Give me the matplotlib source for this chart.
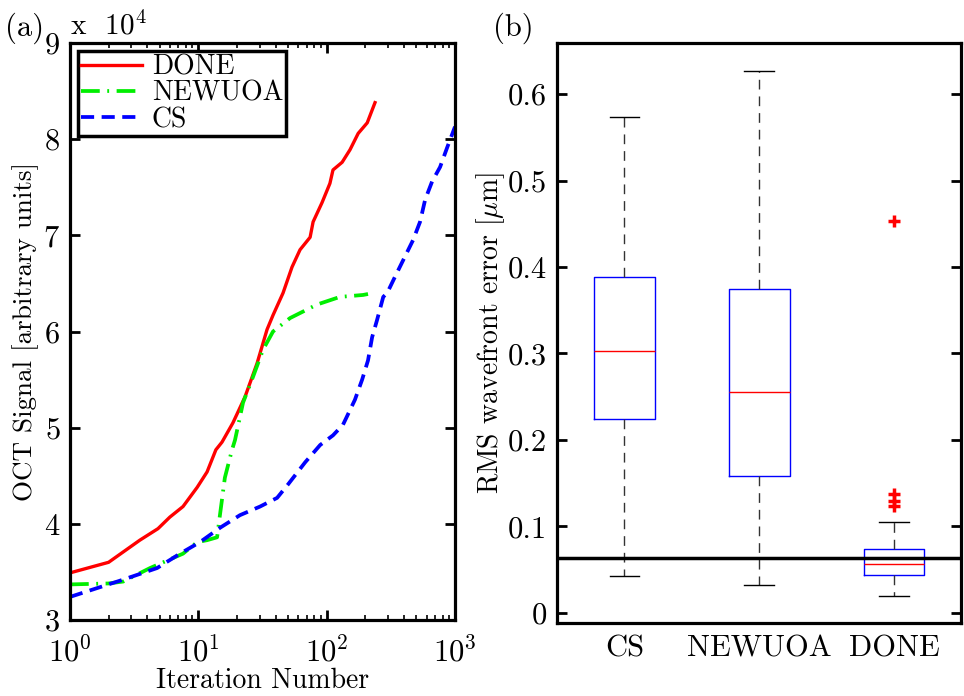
import matplotlib
matplotlib.use("Agg")
import matplotlib.pyplot as plt

plt.rcParams["font.family"] = "serif"
plt.rcParams["font.serif"] = ["cmr10", "DejaVu Serif"]
plt.rcParams["mathtext.fontset"] = "cm"
plt.rcParams["axes.formatter.use_mathtext"] = True
plt.rcParams["axes.unicode_minus"] = False

# ---- panel (a): OCT signal vs iteration (values in units of 1e4) ----
done_iter = [1, 2, 3.5, 4.85, 6.0, 7.6, 9.8, 11.7, 13.7, 15.3, 18.6, 23.1, 28.7,
             34.3, 38.2, 45.7, 53.7, 62, 74.3, 78.4, 92, 106, 112, 132, 152,
             176, 207, 238]
done_sig = [3.49, 3.60, 3.83, 3.95, 4.07, 4.18, 4.38, 4.54, 4.77, 4.85, 5.05,
            5.32, 5.67, 6.02, 6.17, 6.40, 6.67, 6.85, 6.98, 7.14, 7.34, 7.54,
            7.68, 7.76, 7.89, 8.06, 8.17, 8.38]

newuoa_iter = [1, 2, 2.6, 4.2, 7.6, 9.8, 11.7, 14.0, 14.8, 16.1, 18.3, 19.3,
               22.3, 26.7, 31.9, 38.2, 51.9, 84, 127, 192, 210]
newuoa_sig = [3.37, 3.38, 3.40, 3.54, 3.69, 3.81, 3.83, 3.86, 4.11, 4.48, 4.77,
              4.87, 5.26, 5.53, 5.81, 6.00, 6.14, 6.28, 6.36, 6.38, 6.39]

cs_iter = [1, 2.6, 4.77, 7.2, 10.3, 14.8, 21.1, 30.3, 41.1, 50, 68, 89, 112,
           134, 166, 189, 210, 226, 247, 276, 296, 341, 394, 471, 534, 585,
           663, 765, 867, 1000]
cs_sig = [3.24, 3.42, 3.54, 3.69, 3.81, 3.96, 4.09, 4.18, 4.27, 4.41, 4.64,
          4.82, 4.92, 5.03, 5.29, 5.50, 5.70, 5.94, 6.12, 6.36, 6.40, 6.57,
          6.74, 6.95, 7.14, 7.37, 7.56, 7.71, 7.91, 8.13]

# ---- panel (b): boxplot statistics of RMS wavefront error [um] ----
methods = ["CS", "NEWUOA", "DONE"]
whis_lo = [0.043, 0.032, 0.020]
q1 = [0.224, 0.158, 0.044]
med = [0.303, 0.255, 0.057]
q3 = [0.388, 0.375, 0.074]
whis_hi = [0.573, 0.627, 0.105]
outliers = [[], [], [0.453, 0.137, 0.130, 0.124]]
threshold = 0.064

fig = plt.figure(figsize=(9.64, 6.96), dpi=100)
ax1 = fig.add_axes([0.0726, 0.1092, 0.3994, 0.829])
ax2 = fig.add_axes([0.5778, 0.1049, 0.4195, 0.8333])

ax1.plot(done_iter, done_sig, color="red", lw=2.4, label="DONE")
ax1.plot(newuoa_iter, newuoa_sig, color="#00ee00", lw=2.7,
         linestyle=(0, (5, 2, 0.5, 2)), label="NEWUOA")
ax1.plot(cs_iter, cs_sig, color="blue", lw=2.7, linestyle=(0, (3.5, 2)),
         label="CS")
ax1.set_xscale("log")
ax1.set_xlim(1, 1000)
ax1.set_ylim(3, 9)
ax1.set_xticks([1, 10, 100, 1000])
ax1.set_yticks(range(3, 10))
ax1.set_xlabel("Iteration Number", fontsize=20, labelpad=0)
ax1.set_ylabel("OCT Signal [arbitrary units]", fontsize=19.5, labelpad=3)
ax1.text(0.0, 1.005, r"x  $10^4$", transform=ax1.transAxes, fontsize=21,
         va="bottom", ha="left")
leg = ax1.legend(loc="upper left", fontsize=20, handlelength=2.2,
                 labelspacing=0.0, borderaxespad=0.3, borderpad=0.1,
                 handletextpad=0.35, fancybox=False, framealpha=1)
leg.get_frame().set_edgecolor("black")
leg.get_frame().set_linewidth(2.5)

stats = []
for i, name in enumerate(methods):
    stats.append(dict(label=name, whislo=whis_lo[i], q1=q1[i], med=med[i],
                      q3=q3[i], whishi=whis_hi[i], fliers=outliers[i]))
ax2.bxp(stats, positions=[1, 2, 3], widths=0.45, capwidths=0.22,
        boxprops=dict(color="blue", lw=1.0),
        medianprops=dict(color="red", lw=1.0),
        whiskerprops=dict(color="#333333", lw=1.0, linestyle=(0, (7, 5))),
        capprops=dict(color="black", lw=1.0),
        flierprops=dict(marker="+", markeredgecolor="red", markersize=8,
                        markeredgewidth=2.5))
ax2.axhline(threshold, color="black", lw=2.5)
ax2.set_xlim(0.5, 3.5)
ax2.set_ylim(-0.0116, 0.659)
ax2.set_yticks([0, 0.1, 0.2, 0.3, 0.4, 0.5, 0.6])
ax2.set_yticklabels(["0", "0.1", "0.2", "0.3", "0.4", "0.5", "0.6"])
ax2.set_ylabel(r"RMS wavefront error [$\mu$m]", fontsize=20)
ax2.yaxis.set_label_coords(-0.124, 0.5)
ax2.tick_params(axis="x", length=0, labelsize=22, pad=9)

for ax in (ax1, ax2):
    for sp in ax.spines.values():
        sp.set_linewidth(2.3)
    ax.tick_params(which="both", direction="in", top=True, right=True,
                   width=2.0)
    ax.tick_params(axis="y", labelsize=22, length=7, pad=7)
ax1.tick_params(axis="x", which="major", labelsize=22, length=7, pad=12)
ax1.tick_params(axis="x", which="minor", length=3.5, width=1.2)

fig.text(5 / 964, 1 - 28 / 696, "(a)", fontsize=22, va="center", ha="left")
fig.text(493 / 964, 1 - 28 / 696, "(b)", fontsize=22, va="center", ha="left")

fig.savefig("out.png", dpi=100)
